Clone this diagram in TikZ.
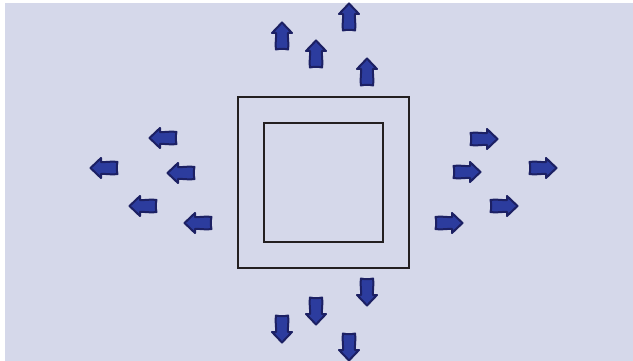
\documentclass[tikz,border=0pt]{standalone}
\definecolor{bgc}{HTML}{D5D8EA}
\definecolor{arrfill}{HTML}{2C3C9E}
\definecolor{arrline}{HTML}{1C2063}
\definecolor{boxline}{HTML}{231F20}
\tikzset{
  blkarrow/.pic={
    \draw[fill=arrfill, draw=arrline, line width=2pt, line join=round]
      (-13.5,-6) .. controls (-6,-7) and (-2,-5.5) .. (3,-6) -- (3,-10) -- (13.5,0) -- (3,10) -- (3,6)
      .. controls (-2,5.5) and (-6,7) .. (-13.5,6) .. controls (-12.5,2) and (-12.5,-2) .. cycle;
  },
  sq/.style={draw=boxline, line width=2pt}
}
\begin{document}
\begin{tikzpicture}[x=1pt,y=-1pt]
\useasboundingbox (0,0) rectangle (633,361);
\fill[bgc] (5,3) rectangle (633,361);
\node[sq, minimum width=171pt, minimum height=171pt, inner sep=0pt] (outer) at (323.5,182.5) {};
\node[sq, minimum width=119pt, minimum height=119pt, inner sep=0pt] (inner) at (323.5,182.5) {};
% up arrows
\pic[rotate=90] (u1) at (282,36) {blkarrow};
\pic[rotate=90] (u2) at (316,54) {blkarrow};
\pic[rotate=90] (u3) at (349,17) {blkarrow};
\pic[rotate=90] (u4) at (367,72) {blkarrow};
% down arrows
\pic[rotate=-90] (d1) at (367,292) {blkarrow};
\pic[rotate=-90] (d2) at (316,311) {blkarrow};
\pic[rotate=-90] (d3) at (282,329) {blkarrow};
\pic[rotate=-90] (d4) at (349,347) {blkarrow};
% left arrows
\pic[rotate=180] (l1) at (163,138) {blkarrow};
\pic[rotate=180] (l2) at (104,168) {blkarrow};
\pic[rotate=180] (l3) at (181,173) {blkarrow};
\pic[rotate=180] (l4) at (143,206) {blkarrow};
\pic[rotate=180] (l5) at (198,223) {blkarrow};
% right arrows
\pic (r1) at (484,139) {blkarrow};
\pic (r2) at (467,172) {blkarrow};
\pic (r3) at (543,168) {blkarrow};
\pic (r4) at (504,206) {blkarrow};
\pic (r5) at (449,223) {blkarrow};
\end{tikzpicture}
\end{document}
